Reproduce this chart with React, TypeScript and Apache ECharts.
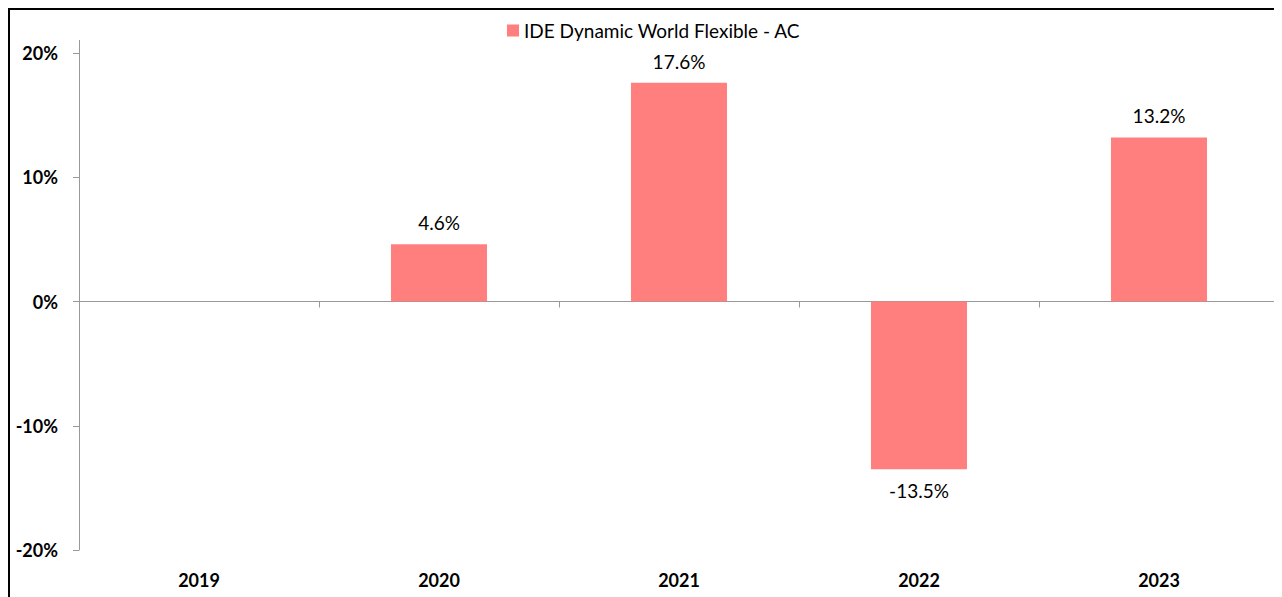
import React, { useEffect, useRef } from "react";
import * as echarts from "echarts";

const categories = ["2019", "2020", "2021", "2022", "2023"];
const seriesName = "IDE Dynamic World Flexible - AC";
const values: (number | null)[] = [null, 4.6, 17.6, -13.5, 13.2];
const yMin = -20;
const yMax = 20;
const yInterval = 10;

const FONT = "Lato, 'Open Sans', sans-serif";
const AXIS_GRAY = "#999999";
const BAR_COLOR = "#FF7F7F";

export default function App() {
  const ref = useRef<HTMLDivElement>(null);
  useEffect(() => {
    document.documentElement.style.overflow = "hidden";
    document.body.style.overflow = "hidden";
    if (!ref.current) return;
    const chart = echarts.init(ref.current, undefined, { renderer: "svg" });
    chart.setOption({
      animation: false,
      textStyle: { fontFamily: FONT },
      legend: {
        data: [seriesName],
        left: 492,
        top: 6,
        itemWidth: 12,
        itemHeight: 12,
        itemGap: 6,
        icon: "rect",
        textStyle: { fontSize: 19, color: "#000", fontFamily: FONT },
      },
      grid: { left: 69, top: 43, width: 1200, height: 497 },
      xAxis: [
        {
          type: "category",
          data: categories,
          position: "bottom",
          axisLine: { onZero: true, lineStyle: { color: AXIS_GRAY, width: 1 } },
          axisTick: { show: true, length: 6, lineStyle: { color: AXIS_GRAY } },
          axisLabel: { show: false },
          splitLine: { show: false },
        },
        {
          type: "category",
          data: categories,
          position: "bottom",
          axisLine: { show: false, onZero: false },
          axisTick: { show: false },
          axisLabel: {
            fontWeight: "bold",
            fontSize: 18,
            color: "#000",
            margin: 21,
            fontFamily: FONT,
          },
          splitLine: { show: false },
        },
      ],
      yAxis: {
        type: "value",
        min: yMin,
        max: yMax,
        interval: yInterval,
        axisLine: { show: true, lineStyle: { color: AXIS_GRAY, width: 1 } },
        axisTick: { show: true, length: 6, lineStyle: { color: AXIS_GRAY } },
        splitLine: { show: false },
        axisLabel: {
          formatter: "{value}%",
          fontWeight: "bold",
          fontSize: 18,
          color: "#000",
          margin: 21,
          fontFamily: FONT,
        },
      },
      graphic: [
        {
          type: "line",
          shape: { x1: 69.5, y1: 30, x2: 69.5, y2: 43 },
          style: { stroke: AXIS_GRAY, lineWidth: 1 },
          silent: true,
        },
      ],
      series: [
        {
          name: seriesName,
          type: "bar",
          xAxisIndex: 0,
          barWidth: "40%",
          itemStyle: { color: BAR_COLOR },
          label: {
            show: true,
            position: "top",
            distance: 12,
            fontSize: 19,
            color: "#000",
            fontFamily: FONT,
            formatter: (p: any) => `${Number(p.value).toFixed(1)}%`,
          },
          data: values.map((v) =>
            v == null
              ? null
              : v < 0
              ? { value: v, label: { position: "bottom", distance: 12 } }
              : { value: v }
          ),
        },
      ],
    });
    return () => chart.dispose();
  }, []);
  return (
    <div
      style={{
        width: 1272,
        height: 587,
        borderTop: "2px solid #000",
        borderLeft: "2px solid #000",
      }}
    >
      <div ref={ref} style={{ width: 1272, height: 587 }} />
    </div>
  );
}
